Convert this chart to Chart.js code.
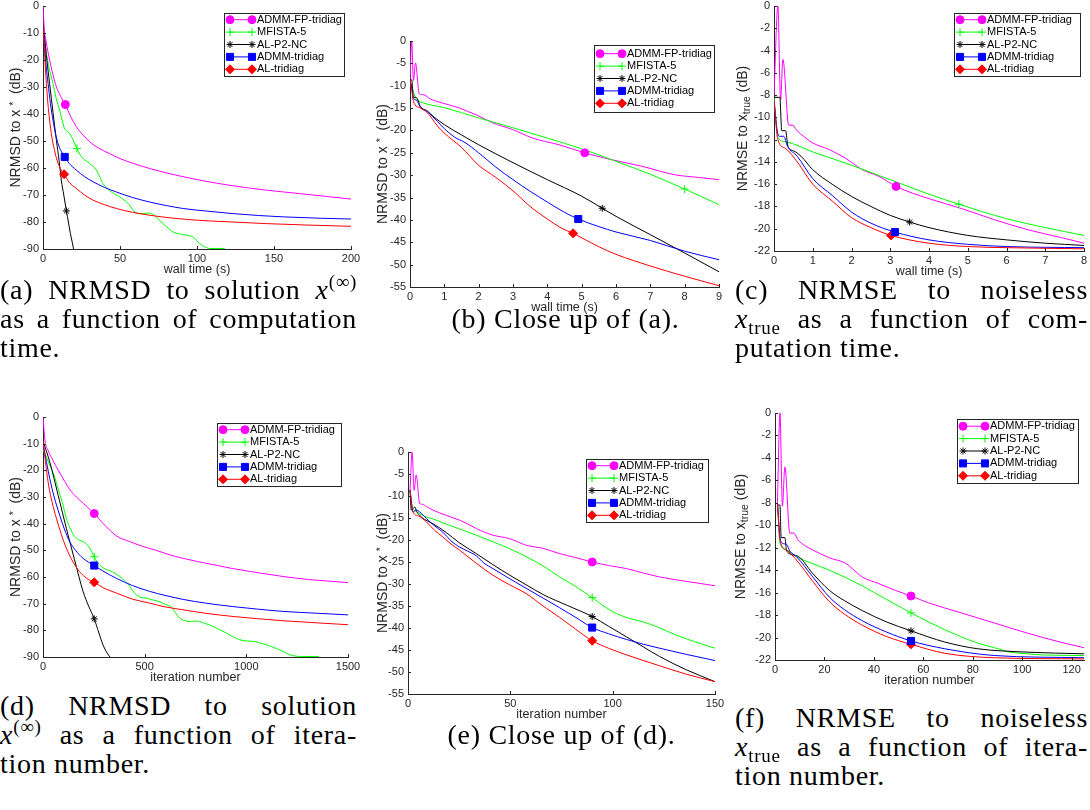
<!DOCTYPE html>
<html>
<head>
<meta charset="utf-8">
<title>Convergence plots</title>
<script src="https://cdn.jsdelivr.net/npm/chart.js@4.4.1/dist/chart.umd.min.js"></script>
<style>
  html, body { margin: 0; padding: 0; background: #fff; }
  #page { position: relative; width: 1090px; height: 810px; overflow: hidden; }
  canvas { position: absolute; }
  .cap { position: absolute; font-family: "Liberation Serif", "Times New Roman", serif; font-size: 28px; line-height: 29px; letter-spacing: 0.7px; color: #000; }
  .cap .j { text-align: justify; text-align-last: justify; }
  .cap .c { text-align: center; }
  .cap sup { font-size: 0.68em; vertical-align: 0; position: relative; top: -0.6em; line-height: 0; }
  .cap sub { font-size: 0.68em; vertical-align: 0; position: relative; top: 0.3em; line-height: 0; }
</style>
</head>
<body>
<div id="page">
  <canvas id="pa"></canvas>
  <canvas id="pb"></canvas>
  <canvas id="pc"></canvas>
  <canvas id="pd"></canvas>
  <canvas id="pe"></canvas>
  <canvas id="pf"></canvas>

  <div class="cap" style="left:0;top:275px;width:357px">
    <div class="j">(a) NRMSD to solution <i>x</i><sup>(∞)</sup></div>
    <div class="j">as a function of computation</div>
    <div>time.</div>
  </div>
  <div class="cap" style="left:410px;top:304px;width:311px">
    <div class="c">(b) Close up of (a).</div>
  </div>
  <div class="cap" style="left:735px;top:275px;width:353px">
    <div class="j">(c) NRMSE to noiseless</div>
    <div class="j"><i>x</i><sub>true</sub> as a function of com-</div>
    <div>putation time.</div>
  </div>
  <div class="cap" style="left:0;top:691px;width:357px">
    <div class="j">(d) NRMSD to solution</div>
    <div class="j"><i>x</i><sup>(∞)</sup> as a function of itera-</div>
    <div>tion number.</div>
  </div>
  <div class="cap" style="left:408px;top:720px;width:307px">
    <div class="c">(e) Close up of (d).</div>
  </div>
  <div class="cap" style="left:735px;top:703px;width:353px">
    <div class="j">(f) NRMSE to noiseless</div>
    <div class="j"><i>x</i><sub>true</sub> as a function of itera-</div>
    <div>tion number.</div>
  </div>
</div>

<script>
const FONT = '"Liberation Sans", Arial, Helvetica, sans-serif';
const INK = '#262626';

const seriesNames = ['ADMM-FP-tridiag', 'MFISTA-5', 'AL-P2-NC', 'ADMM-tridiag', 'AL-tridiag'];
const seriesColors = ['#ff00ff', '#00ff00', '#000000', '#0000ff', '#ff0000'];

// (a) NRMSD to x* vs wall time, 0..200 s
const aFp = [[0,0],[0.8,-8],[2,-13],[4.3,-20],[6.5,-25.5],[8.7,-30],[11.5,-33.5],[14.5,-36.5],[18,-41],[21.7,-44.7],[26,-47.8],[30.3,-50.3],[36,-52.6],[43,-54.6],[50,-56.5],[58.5,-58.3],[70,-60.3],[80,-61.8],[101.8,-64.5],[123.5,-66.6],[145,-68.2],[167,-69.5],[185,-70.6],[200,-71.5]];
const aMf = [[0.5,-12],[2,-17],[4,-23],[6.5,-28.7],[8.5,-34],[10.8,-38.6],[12.5,-42.5],[14,-45.4],[17.3,-47.2],[19.5,-49.5],[22,-52.8],[24,-55],[26,-56.5],[30.3,-58.3],[34.7,-60.8],[37,-63.5],[39,-65.8],[44.4,-68.9],[49.8,-70.7],[55.3,-73.2],[59.6,-76.3],[62,-76.8],[65,-76.9],[68,-76.7],[71.5,-77.2],[75,-79],[78,-80.6],[84.5,-83.7],[88,-84.3],[93.2,-84.9],[97.5,-85.6],[101.8,-88],[105,-89.2],[108.3,-89.8],[118,-89.8]];
const aP2 = [[0.3,-9],[1.1,-12],[2.5,-20],[4.3,-28.7],[6.5,-39.5],[8.7,-49.7],[10.5,-57.5],[11.9,-64.5],[13.5,-70],[15.2,-75.9],[16.5,-80],[17.8,-84.3],[19,-87.5],[20,-90.5]];
const aAd = [[0.3,-9],[1.2,-16],[2,-22],[3.3,-28.7],[4.8,-36],[6.5,-42.3],[8,-47],[9.8,-51],[12,-54],[14.1,-55.9],[17,-58.3],[21.7,-60.8],[27,-63.2],[32.5,-65.1],[40,-67.2],[47.7,-68.9],[58,-70.9],[69.3,-72.6],[80,-73.9],[91,-75],[107,-76],[123.5,-76.9],[140,-77.6],[156,-78.1],[180,-78.6],[200,-78.9]];
const aAl = [[0.3,-9],[1,-17],[2.2,-28.7],[3.5,-38],[5.4,-47.2],[7.5,-53.5],[9.8,-58.3],[11.8,-60.7],[13.7,-62.3],[17,-65.3],[21.7,-67.6],[27,-70],[32.5,-71.9],[40,-73.6],[47.7,-75],[58,-76.4],[69.3,-77.5],[85,-78.6],[101.8,-79.4],[123,-80],[145,-80.6],[170,-81.1],[200,-81.6]];
const aMarks = [[14.5,-36.5],[22,-52.8],[15.2,-75.9],[14.1,-55.9],[13.7,-62.3]];

// (b) close up of (a), 0..9 s
const bFp = [[0,-8.5],[0.05,0],[0.1,-8.8],[0.16,-4.9],[0.27,-11.8],[0.39,-12],[0.6,-13],[0.96,-13.9],[1.45,-15],[1.7,-15.8],[1.93,-16.5],[2.41,-18.3],[2.99,-19.8],[3.57,-21.7],[4.34,-23.2],[5.09,-25],[5.79,-26.4],[6.75,-28],[7.71,-29.9],[8.4,-30.5],[9,-31]];
const bMf = [[0,-8.7],[0.05,-10],[0.15,-12.5],[0.25,-13.4],[0.4,-13.9],[1,-14.9],[2,-17.2],[3,-19.4],[4,-21.7],[5,-24.1],[6,-26.9],[7,-29.8],[8,-33.1],[9,-36.6]];
const bP2 = [[0,-8.7],[0.05,-8.7],[0.1,-12.6],[0.17,-12.6],[0.22,-13],[0.3,-14.6],[0.5,-15.6],[0.7,-17],[1,-18.7],[1.5,-21],[2,-23.2],[3,-27.2],[4,-31],[5,-34.7],[5.6,-37.4],[6,-39.2],[7,-43.3],[8,-47.4],[9,-51.6]];
const bAd = [[0,-8.7],[0.05,-10.5],[0.1,-12.8],[0.2,-13.3],[0.3,-14.8],[0.5,-15.8],[0.8,-18],[1,-19.6],[1.3,-21.5],[1.6,-22.7],[2,-25],[2.5,-28.2],[3,-31],[3.5,-33.6],[4,-36],[4.5,-38.3],[4.9,-39.8],[5.5,-41.5],[6,-42.7],[7,-44.6],[8,-47],[9,-48.9]];
const bAl = [[0,-8.7],[0.05,-11],[0.1,-13.5],[0.3,-15],[0.5,-16],[0.8,-19],[1,-20.6],[1.5,-23.8],[2,-27.8],[2.5,-30.5],[3,-33.5],[3.5,-37],[4,-39.8],[4.4,-41.8],[4.75,-43],[5.5,-46],[6,-47.7],[7,-50.3],[8,-52.6],[9,-54.7]];
const bMarks = [[5.09,-25],[8,-33.1],[5.6,-37.4],[4.9,-39.8],[4.75,-43]];

// (c) NRMSE to x_true vs wall time, 0..8 s
const cFp = [[0,-8],[0.1,0],[0.17,-8.4],[0.23,-4.8],[0.38,-10.7],[0.49,-10.7],[0.57,-11.1],[0.8,-11.8],[1,-12.3],[1.43,-12.9],[1.6,-13.2],[1.86,-13.7],[2.28,-14.7],[2.71,-15.3],[3.15,-16.2],[3.57,-16.8],[4,-17.3],[4.85,-18.2],[5.7,-19.2],[6.56,-20.1],[7.42,-20.8],[8,-21.3]];
const cMf = [[0,-8.2],[0.1,-11.8],[0.3,-12.2],[1,-13.1],[2,-14.3],[3,-15.6],[4,-16.9],[4.77,-17.8],[6,-19.1],[7,-19.9],[8,-20.6]];
const cP2 = [[0,-8.2],[0.15,-8.2],[0.2,-11.2],[0.3,-11.2],[0.36,-12.6],[0.5,-13],[0.7,-13.5],[1,-14.7],[1.5,-16],[2,-17.1],[2.5,-18],[3,-18.8],[3.5,-19.4],[4,-19.9],[5,-20.6],[6,-21],[7,-21.3],[8,-21.5]];
const cAd = [[0,-8.5],[0.1,-11.5],[0.15,-11.7],[0.25,-11.7],[0.35,-12.6],[0.6,-13.5],[1,-15.5],[1.5,-17],[2,-18.5],[2.5,-19.5],[3.12,-20.3],[4,-21],[5,-21.4],[6,-21.6],[8,-21.7]];
const cAl = [[0,-8.5],[0.1,-12],[0.3,-12.8],[0.6,-14],[1,-16],[1.5,-17.5],[2,-19],[2.5,-19.9],[3.02,-20.6],[4,-21.3],[5,-21.6],[6,-21.7],[8,-21.8]];
const cMarks = [[3.15,-16.2],[4.77,-17.8],[3.5,-19.4],[3.12,-20.3],[3.02,-20.6]];

// (d) NRMSD to x* vs iteration, 0..1500
const dFp = [[0,0],[10,-9],[25,-12.5],[50,-16.5],[98,-23],[130,-27],[164,-30],[200,-32.5],[252,-36.2],[290,-39.5],[328,-42.4],[370,-45],[426,-46.7],[490,-48.5],[557,-50],[620,-51.6],[689,-53],[760,-54.2],[852,-55.6],[930,-56.8],[1016,-57.9],[1100,-58.9],[1180,-59.8],[1300,-60.9],[1400,-61.5],[1500,-62.1]];
const dMf = [[0,-12],[33,-18],[55,-22],[74,-26.8],[95,-32],[115,-38],[135,-42],[156,-44.9],[175,-46],[197,-46.7],[215,-47.8],[230,-49.2],[252,-52.4],[265,-54.3],[279,-55.5],[300,-56.8],[328,-57.6],[355,-58.7],[377,-59.8],[395,-61],[418,-62.7],[440,-65],[459,-66.7],[480,-67.6],[508,-67.9],[540,-68.6],[574,-69.3],[600,-70.2],[631,-71.3],[650,-73.3],[672,-75.4],[700,-76.4],[721,-76.7],[750,-76.5],[770,-76.7],[800,-77.5],[836,-78.5],[870,-79.8],[902,-81],[935,-82.5],[967,-83.5],[1000,-84],[1033,-84.1],[1070,-84.8],[1098,-85.4],[1130,-86.3],[1164,-87.3],[1190,-88.3],[1213,-89.1],[1262,-89.8],[1356,-89.8]];
const dP2 = [[0,-9],[33,-16.8],[75,-29.5],[115,-41.8],[155,-53.5],[197,-65.4],[225,-71],[252,-75.7],[275,-81],[295,-85.4],[315,-88.5],[335,-90.5]];
const dAd = [[0,-10],[33,-23],[55,-30],[82,-36.8],[105,-42],[131,-46.7],[160,-50],[197,-53],[225,-54.5],[252,-55.7],[300,-58],[361,-60.5],[440,-63.2],[525,-65.4],[600,-66.9],[689,-68.4],[800,-69.8],[934,-71.1],[1050,-72],[1180,-72.9],[1350,-73.6],[1500,-74.2]];
const dAl = [[0,-9],[25,-24.3],[45,-32],[66,-38],[90,-44],[115,-49.2],[145,-54],[180,-58],[215,-60.5],[252,-62],[300,-64.2],[361,-66],[440,-68.3],[525,-69.8],[600,-71.2],[689,-72.3],[800,-73.6],[934,-74.8],[1050,-75.6],[1180,-76.4],[1350,-77.2],[1500,-77.9]];
const dMarks = [[252,-36.2],[252,-52.4],[252,-75.7],[252,-55.7],[252,-62]];

// (e) close up of (d), 0..150
const eFp = [[1,-8.7],[2,0],[3,-8.7],[4,-5.2],[5.7,-11.7],[7.3,-11.9],[9,-12.4],[12.2,-13.2],[18.7,-14.4],[25.2,-15.5],[29,-16.3],[33.4,-17.4],[41.5,-18.9],[49.7,-19.7],[54,-20.5],[57.8,-21.2],[66,-21.9],[74.1,-23.1],[82,-24],[90,-25],[98,-25.8],[106.7,-26.5],[115,-27.5],[123,-28.4],[136,-29.4],[150,-30.4]];
const eMf = [[1,-8.7],[2.4,-12.9],[4,-13.5],[5.7,-14],[8,-14.6],[12.2,-15.2],[18.7,-16.4],[25.2,-17.5],[33.4,-18.9],[41.5,-20.4],[49.7,-22],[57.8,-23.8],[66,-25.9],[74.1,-28.4],[82,-30.6],[90,-33.1],[95.3,-34.9],[101.8,-36.7],[108,-37.8],[114.8,-38.6],[122,-39.8],[131,-41.6],[140,-43.1],[150,-44.6]];
const eP2 = [[1,-8.7],[1.6,-13.2],[2.5,-12.8],[3.3,-12.5],[4.2,-13.5],[5.7,-14.4],[8,-15.3],[12.2,-16.3],[18.7,-18.3],[25,-20.6],[33.4,-23.1],[41.5,-25.6],[49.7,-28],[57.8,-30.2],[66,-32.4],[78,-34.9],[90,-37.4],[98,-39.6],[106.7,-42],[115,-44.3],[123,-46.5],[136,-49.5],[150,-52.2]];
const eAd = [[1,-8.7],[2.4,-13.6],[4,-13.2],[5.7,-13.6],[9,-15.1],[13,-16.8],[17,-18.2],[21,-20.2],[25.2,-21.6],[29,-22.5],[33.4,-23.6],[37,-25.2],[41.5,-26.5],[49.7,-28.8],[57.8,-31],[66,-33.2],[74.1,-35.4],[82,-37.6],[90,-39.9],[98,-41.3],[106.7,-42.6],[115,-43.7],[123,-44.6],[136,-46],[150,-47.4]];
const eAl = [[1,-8.7],[2.4,-13.6],[5,-14.5],[9,-15.9],[13,-17.8],[17,-19.3],[21,-20.9],[25.2,-22.3],[33.4,-25.3],[41.5,-28],[49.7,-30.2],[57.8,-32.2],[66,-35],[74.1,-37.6],[82,-40.3],[90,-42.9],[98,-44.6],[106.7,-46.1],[115,-47.4],[123,-48.6],[136,-50.5],[150,-52.2]];
const eMarks = [[90,-25],[90,-33.1],[90,-37.4],[90,-39.9],[90,-42.9]];

// (f) NRMSE to x_true vs iteration, 0..125
const fFp = [[1,-8],[2,0],[3,-8.3],[4,-4.8],[6,-10.7],[7.6,-10.7],[9.3,-11.3],[12,-11.8],[15.3,-12.2],[22,-12.9],[28.7,-13.4],[32,-14],[35.3,-14.6],[42,-15.2],[48.7,-15.8],[55,-16.3],[62,-16.9],[75.3,-17.8],[88.7,-18.7],[102,-19.6],[115.3,-20.4],[125,-20.9]];
const fMf = [[1,-8],[2,-11.6],[4.7,-12.2],[8.7,-12.8],[15,-13.4],[22,-14],[35.3,-15.4],[45,-16.6],[55,-17.8],[62,-18.6],[68.7,-19.3],[75,-19.9],[82,-20.5],[88.7,-20.9],[95.3,-21.3],[102,-21.45],[108.7,-21.55],[125,-21.6]];
const fP2 = [[1,-8.2],[2,-8.2],[2.5,-11.1],[4,-11.1],[4.7,-12.3],[8.7,-12.7],[15.3,-14.3],[22,-15.8],[28,-16.7],[35.3,-17.6],[45,-18.6],[55,-19.4],[68.7,-20.4],[82,-21],[102,-21.3],[125,-21.45]];
const fAd = [[1,-8],[2,-11],[3,-11.6],[4.7,-11.7],[6,-12.3],[8.7,-12.8],[15.3,-14.6],[22,-16.4],[28,-17.5],[35.3,-18.5],[45,-19.5],[55,-20.3],[68.7,-21],[88.7,-21.6],[125,-21.8]];
const fAl = [[1,-8],[2,-11.3],[4.7,-12.2],[8.7,-13.1],[15.3,-15],[22,-16.8],[28,-17.9],[35.3,-18.9],[45,-19.9],[55,-20.6],[68.7,-21.4],[88.7,-21.8],[125,-21.9]];
const fMarks = [[55,-16.3],[55,-17.8],[55,-19.4],[55,-20.3],[55,-20.6]];

// marker shapes: o, +, *, filled square, filled diamond
const markerStyle = [
  { pointStyle: 'circle', radius: 4 },
  { pointStyle: 'cross', radius: 4 },
  { pointStyle: 'star', radius: 3.5 },
  { pointStyle: 'rect', radius: 5 },
  { pointStyle: 'rectRot', radius: 4.5 }
];

const sdTitle = [{ t: 'NRMSD to x ' }, { t: '*', k: 1 }, { t: '  (dB)' }];
const seTitle = [{ t: 'NRMSE to x' }, { t: 'true', k: -1 }, { t: ' (dB)' }];

// inward tick marks on the left and bottom axes
const inwardTicks = {
  id: 'inwardTicks',
  afterDatasetsDraw(chart) {
    const { ctx, chartArea: a, scales: { x, y } } = chart;
    ctx.save();
    ctx.strokeStyle = INK;
    ctx.lineWidth = 1;
    ctx.beginPath();
    x.ticks.forEach(t => {
      const px = Math.round(x.getPixelForValue(t.value)) + 0.5;
      ctx.moveTo(px, a.bottom);
      ctx.lineTo(px, a.bottom - 3);
    });
    y.ticks.forEach(t => {
      const py = Math.round(y.getPixelForValue(t.value)) + 0.5;
      ctx.moveTo(a.left, py);
      ctx.lineTo(a.left + 3, py);
    });
    ctx.stroke();
    ctx.restore();
  }
};

// boxed legend, line with a marker at each end
const boxLegend = {
  id: 'boxLegend',
  afterDraw(chart, args, opts) {
    const { ctx } = chart;
    const [bx, by, bw, bh] = opts.box;
    ctx.save();
    ctx.fillStyle = '#fff';
    ctx.fillRect(bx, by, bw, bh);
    ctx.strokeStyle = INK;
    ctx.lineWidth = 1;
    ctx.strokeRect(Math.round(bx) + 0.5, Math.round(by) + 0.5, Math.round(bw), Math.round(bh));
    const gap = 12.4;
    const y0 = by + bh / 2 - 2 * gap;
    ctx.font = '11px ' + FONT;
    ctx.textBaseline = 'middle';
    ctx.textAlign = 'left';
    seriesNames.forEach((name, i) => {
      const y = y0 + i * gap;
      const x1 = bx + 6, x2 = bx + 28;
      ctx.strokeStyle = seriesColors[i];
      ctx.fillStyle = seriesColors[i];
      ctx.lineWidth = 1;
      ctx.beginPath();
      ctx.moveTo(x1, y);
      ctx.lineTo(x2, y);
      ctx.stroke();
      [x1, x2].forEach(px => Chart.helpers.drawPoint(ctx, {
        pointStyle: markerStyle[i].pointStyle, radius: markerStyle[i].radius, rotation: 0, borderWidth: 1
      }, px, y));
      ctx.fillStyle = '#000';
      ctx.fillText(name, bx + 33, y);
    });
    ctx.restore();
  }
};

// rotated y label with a raised or lowered part
const yTitle = {
  id: 'yTitle',
  afterDraw(chart, args, opts) {
    const { ctx, chartArea: a } = chart;
    const base = 14;
    const sizes = opts.parts.map(p => (p.k ? base * 0.75 : base));
    let total = 0;
    ctx.save();
    opts.parts.forEach((p, i) => {
      ctx.font = sizes[i] + 'px ' + FONT;
      total += ctx.measureText(p.t).width;
    });
    ctx.translate(opts.x, (a.top + a.bottom) / 2);
    ctx.rotate(-Math.PI / 2);
    ctx.fillStyle = INK;
    ctx.textBaseline = 'alphabetic';
    let x = -total / 2;
    opts.parts.forEach((p, i) => {
      ctx.font = sizes[i] + 'px ' + FONT;
      const dy = p.k === 1 ? -3.5 : p.k === -1 ? 3.2 : 0;
      ctx.fillText(p.t, x, 5 + dy);
      x += ctx.measureText(p.t).width;
    });
    ctx.restore();
  }
};

function drawPanel(p) {
  const canvas = document.getElementById(p.id);
  const [cl, ct, cw, ch] = p.box;
  const [al, at, ar, ab] = p.area;
  canvas.width = cw;
  canvas.height = ch;
  canvas.style.left = cl + 'px';
  canvas.style.top = ct + 'px';
  canvas.style.width = cw + 'px';
  canvas.style.height = ch + 'px';

  const datasets = p.series.map((pts, i) => ({
    data: pts.map(([x, y]) => ({ x, y })),
    borderColor: seriesColors[i],
    borderWidth: 1,
    pointRadius: 0,
    pointHoverRadius: 0,
    cubicInterpolationMode: 'monotone',
    fill: false,
    order: 10 - i
  }));
  p.marks.forEach(([x, y], i) => {
    datasets.push({
      data: [{ x, y }],
      showLine: false,
      pointStyle: markerStyle[i].pointStyle,
      pointRadius: markerStyle[i].radius,
      pointHoverRadius: markerStyle[i].radius,
      pointBackgroundColor: seriesColors[i],
      pointBorderColor: seriesColors[i],
      pointBorderWidth: 1,
      order: 0
    });
  });

  const tickFont = { family: FONT, size: 11 };
  new Chart(canvas, {
    type: 'line',
    data: { datasets },
    plugins: [inwardTicks, boxLegend, yTitle],
    options: {
      responsive: false,
      animation: false,
      devicePixelRatio: 1,
      events: [],
      layout: { padding: { left: 0, top: at - ct, right: cl + cw - ar, bottom: 0 } },
      plugins: {
        legend: { display: false },
        tooltip: { enabled: false },
        boxLegend: { box: [p.legend[0] - cl, p.legend[1] - ct, p.legend[2], p.legend[3]] },
        yTitle: { parts: p.yParts, x: p.yTitleX - cl }
      },
      scales: {
        x: {
          type: 'linear',
          min: 0,
          max: p.xMax,
          ticks: { stepSize: p.xStep, includeBounds: false, autoSkip: false, maxRotation: 0, padding: 3, color: INK, font: tickFont, callback: v => String(v) },
          grid: { display: true, drawOnChartArea: false, drawTicks: false },
          border: { display: true, color: INK, width: 1 },
          title: { display: true, text: p.xTitle, color: INK, font: { family: FONT, size: 12.5 }, padding: 0 },
          afterFit(s) { s.height = ct + ch - ab; s.paddingLeft = 0; s.paddingRight = 0; }
        },
        y: {
          min: p.yMin,
          max: 0,
          ticks: { stepSize: p.yStep, autoSkip: false, padding: 4, color: INK, font: tickFont, callback: v => String(v) },
          grid: { display: true, drawOnChartArea: false, drawTicks: false },
          border: { display: true, color: INK, width: 1 },
          afterFit(s) { s.width = al - cl; s.paddingTop = 0; s.paddingBottom = 0; }
        }
      }
    }
  });
}

const panels = [
  { id: 'pa', box: [0, 0, 360, 277], area: [43, 6, 351, 249], xMax: 200, xStep: 50, yMin: -90, yStep: 10,
    xTitle: 'wall time (s)', yParts: sdTitle, yTitleX: 15, series: [aFp, aMf, aP2, aAd, aAl], marks: aMarks, legend: [224, 13, 120, 63] },
  { id: 'pb', box: [365, 28, 360, 287], area: [410, 41, 721, 287], xMax: 9, xStep: 1, yMin: -55, yStep: 5,
    xTitle: 'wall time (s)', yParts: sdTitle, yTitleX: 382, series: [bFp, bMf, bP2, bAd, bAl], marks: bMarks, legend: [594, 45, 120, 67] },
  { id: 'pc', box: [730, 0, 360, 279], area: [774, 6, 1086, 251], xMax: 8, xStep: 1, yMin: -22, yStep: 2,
    xTitle: 'wall time (s)', yParts: seTitle, yTitleX: 742, series: [cFp, cMf, cP2, cAd, cAl], marks: cMarks, legend: [954, 13, 126, 63] },
  { id: 'pd', box: [0, 400, 360, 285], area: [43, 417, 348, 657], xMax: 1500, xStep: 500, yMin: -90, yStep: 10,
    xTitle: 'iteration number', yParts: sdTitle, yTitleX: 15, series: [dFp, dMf, dP2, dAd, dAl], marks: dMarks, legend: [217, 423, 124, 63] },
  { id: 'pe', box: [362, 440, 362, 282], area: [408, 452, 715, 694], xMax: 150, xStep: 50, yMin: -55, yStep: 5,
    xTitle: 'iteration number', yParts: sdTitle, yTitleX: 382, series: [eFp, eMf, eP2, eAd, eAl], marks: eMarks, legend: [586, 459, 122, 63] },
  { id: 'pf', box: [730, 400, 360, 288], area: [775, 413, 1089, 660], xMax: 125, xStep: 20, yMin: -22, yStep: 2,
    xTitle: 'iteration number', yParts: seTitle, yTitleX: 740, series: [fFp, fMf, fP2, fAd, fAl], marks: fMarks, legend: [957, 419, 121, 64] }
];

panels.forEach(drawPanel);
</script>
</body>
</html>
